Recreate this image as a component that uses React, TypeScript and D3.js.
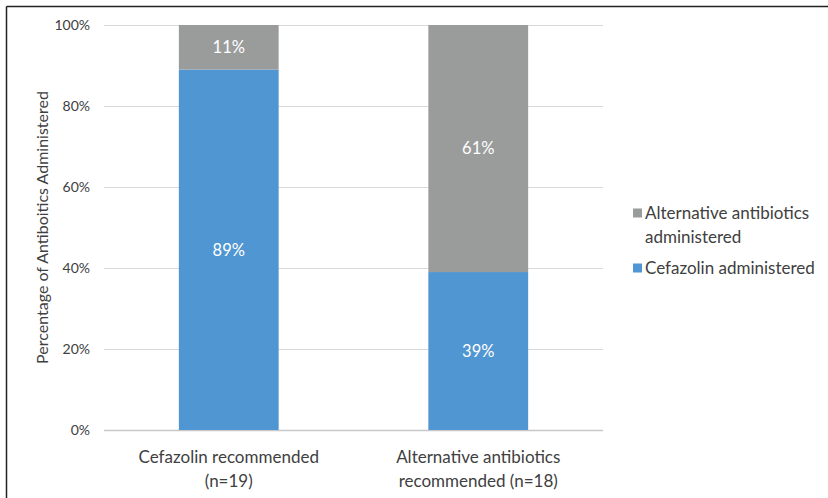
import React, { useEffect, useRef } from "react";
import * as d3 from "d3";

// chart data
const categories = ["Cefazolin recommended (n=19)", "Alternative antibiotics recommended (n=18)"];
const categoryLines = [
  ["Cefazolin recommended", "(n=19)"],
  ["Alternative antibiotics", "recommended (n=18)"],
];
const cefazolinAdministered = [89, 39];
const alternativeAdministered = [11, 61];
const yTicks = [0, 20, 40, 60, 80, 100];

const App = () => {
  const ref = useRef<SVGSVGElement>(null);

  useEffect(() => {
    const width = 828;
    const height = 498;
    const margin = { top: 25, left: 104, right: 225, bottom: 68 };
    const innerW = width - margin.left - margin.right;
    const innerH = height - margin.top - margin.bottom;
    const font = "Lato, 'Open Sans', sans-serif";

    const root = d3.select(ref.current);
    root.selectAll("*").remove();

    // frame (only top and left edges visible)
    root.append("line").attr("x1", 6.5).attr("x2", width).attr("y1", 6.5).attr("y2", 6.5)
      .attr("stroke", "#222").attr("stroke-width", 1.5);
    root.append("line").attr("x1", 6.5).attr("x2", 6.5).attr("y1", 6.5).attr("y2", height)
      .attr("stroke", "#222").attr("stroke-width", 1.5);

    const svg = root.append("g").attr("transform", `translate(${margin.left},${margin.top})`);

    const x = d3.scaleBand().domain(categories).range([0, innerW]).paddingInner(0.6).paddingOuter(0.3);
    const y = d3.scaleLinear().domain([0, 100]).range([innerH, 0]);

    // gridlines
    svg.append("g")
      .selectAll("line")
      .data(yTicks)
      .enter()
      .append("line")
      .attr("x1", 0)
      .attr("x2", innerW)
      .attr("y1", (d) => Math.round(y(d)) + 0.5)
      .attr("y2", (d) => Math.round(y(d)) + 0.5)
      .attr("stroke", (d) => (d === 0 ? "#c8c8c8" : "#d9d9d9"))
      .attr("stroke-width", (d) => (d === 0 ? 1.5 : 1));

    // y tick labels
    svg.append("g")
      .selectAll("text")
      .data(yTicks)
      .enter()
      .append("text")
      .attr("x", -14)
      .attr("y", (d) => y(d))
      .attr("dy", "0.35em")
      .attr("text-anchor", "end")
      .attr("font-family", font)
      .attr("font-size", 14)
      .attr("fill", "#404040")
      .text((d) => `${d}%`);

    // y axis title
    svg.append("text")
      .attr("transform", `translate(${42 - margin.left},${innerH / 2}) rotate(-90)`)
      .attr("text-anchor", "middle")
      .attr("dy", "0.35em")
      .attr("font-family", font)
      .attr("font-size", 16)
      .attr("fill", "#404040")
      .text("Percentage of Antiboitics Administered");

    const series = [
      { name: "Cefazolin administered", values: cefazolinAdministered, color: "#5096d2", base: () => 0 },
      { name: "Alternative antibiotics administered", values: alternativeAdministered, color: "#9a9c9c", base: (i: number) => cefazolinAdministered[i] },
    ];

    series.forEach((s) => {
      const g = svg.append("g");
      g.selectAll("rect")
        .data(categories)
        .enter()
        .append("rect")
        .attr("x", (d) => x(d)!)
        .attr("width", x.bandwidth())
        .attr("y", (d, i) => y(s.base(i) + s.values[i]))
        .attr("height", (d, i) => y(s.base(i)) - y(s.base(i) + s.values[i]))
        .attr("fill", s.color);
      g.selectAll("text")
        .data(categories)
        .enter()
        .append("text")
        .attr("x", (d) => x(d)! + x.bandwidth() / 2)
        .attr("y", (d, i) => y(s.base(i) + s.values[i] / 2))
        .attr("dy", "0.35em")
        .attr("text-anchor", "middle")
        .attr("font-family", font)
        .attr("font-size", 16.5)
        .attr("fill", "#ffffff")
        .text((d, i) => `${s.values[i]}%`);
    });

    // category labels
    categories.forEach((c, i) => {
      const t = svg.append("text")
        .attr("text-anchor", "middle")
        .attr("font-family", font)
        .attr("font-size", 17)
        .attr("fill", "#404040");
      categoryLines[i].forEach((line, j) => {
        t.append("tspan")
          .attr("x", x(c)! + x.bandwidth() / 2)
          .attr("y", innerH + 33 + j * 24)
          .text(line);
      });
    });

    // legend
    const legend = root.append("g").attr("transform", "translate(633,0)");
    const legendItems = [
      { lines: ["Alternative antibiotics", "administered"], color: "#9a9c9c", y: 213 },
      { lines: ["Cefazolin administered"], color: "#5096d2", y: 268 },
    ];
    legendItems.forEach((item) => {
      legend.append("rect")
        .attr("x", 0)
        .attr("y", item.y - 4.5)
        .attr("width", 9)
        .attr("height", 9)
        .attr("fill", item.color);
      const t = legend.append("text")
        .attr("font-family", font)
        .attr("font-size", 17)
        .attr("fill", "#404040");
      item.lines.forEach((line, j) => {
        t.append("tspan")
          .attr("x", 12)
          .attr("y", item.y + j * 24)
          .attr("dy", "0.35em")
          .text(line);
      });
    });
  }, []);

  return (
    <svg ref={ref} width={828} height={498} style={{ position: "absolute", left: 0, top: 0, background: "#fff" }} />
  );
};

export default App;
